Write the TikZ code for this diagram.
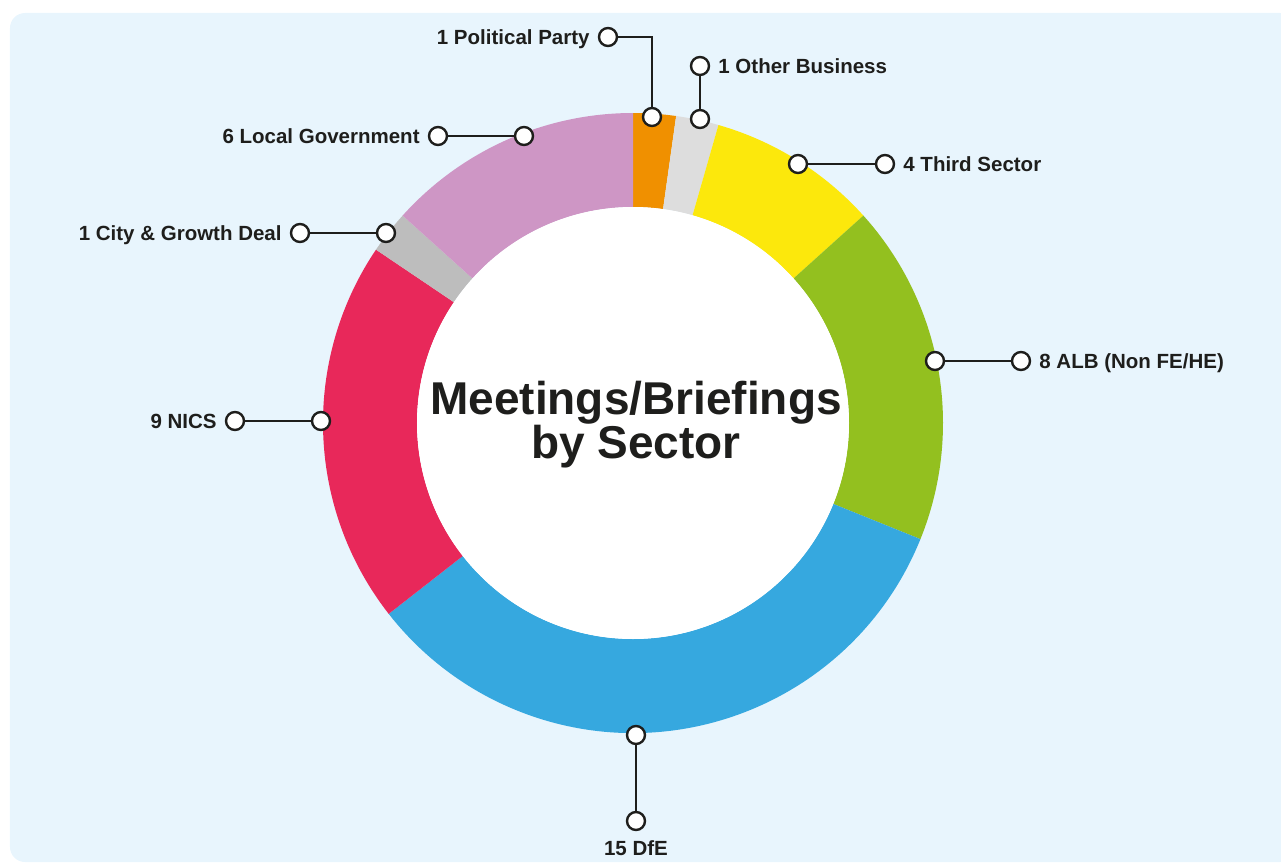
\documentclass[tikz,border=0pt]{standalone}
\usepackage{fontspec}
\setmainfont{Liberation Sans}
\usepackage{xcolor}
\usetikzlibrary{positioning}

\definecolor{ink}{HTML}{1E1E1C}
\definecolor{backcol}{HTML}{E8F5FD}
\definecolor{ppcol}{HTML}{F09000}
\definecolor{obcol}{HTML}{DDDDDD}
\definecolor{tscol}{HTML}{FCE80C}
\definecolor{albcol}{HTML}{93C01F}
\definecolor{dfecol}{HTML}{36A8DF}
\definecolor{nicscol}{HTML}{E8285A}
\definecolor{cgdcol}{HTML}{BDBDBD}
\definecolor{lgcol}{HTML}{CE96C5}

\begin{document}
\begin{tikzpicture}[x=1pt, y=1pt,
    dot/.style = {circle, draw = ink, fill = white, line width = 2.4pt, minimum size = 18pt, inner sep = 0pt},
    lead/.style = {draw = ink, line width = 2.3pt},
    lbl/.style = {text = ink, inner sep = 0pt, text height = 14.5pt, text depth = 0pt,
      font = \bfseries\fontsize{20.5}{24}\selectfont},
    node distance = 8pt]
    \useasboundingbox (-633, -440) rectangle (648, 423);
    \fill[backcol, rounded corners = 15pt] (-623, -439) rectangle (662, 410);
    {
      \foreach \a/\b/\col in {90/82/ppcol, 82/74/obcol, 74/42/tscol, 42/-22/albcol,
        -22/-142/dfecol, -142/-214/nicscol, -214/-222/cgdcol, -222/-270/lgcol}
        \fill[\col] (\a:310) arc[start angle = \a, end angle = \b, radius = 310]
          -- (\b:216) arc[start angle = \b, end angle = \a, radius = 216] -- cycle;
      \fill[white] (0, 0) circle (216);
    }
    {
      \node[dot] (pp1) at (19, 306) {};
      \node[dot] (pp2) at (-25, 386) {};
      \node[dot] (ob1) at (67, 304) {};
      \node[dot] (ob2) at (67, 357) {};
      \node[dot] (ts1) at (165, 259) {};
      \node[dot] (ts2) at (252, 259) {};
      \node[dot] (alb1) at (302, 62) {};
      \node[dot] (alb2) at (388, 62) {};
      \node[dot] (dfe1) at (3, -312) {};
      \node[dot] (dfe2) at (3, -398) {};
      \node[dot] (nics1) at (-312, 2) {};
      \node[dot] (nics2) at (-398, 2) {};
      \node[dot] (cgd1) at (-247, 190) {};
      \node[dot] (cgd2) at (-333, 190) {};
      \node[dot] (lg1) at (-109, 287) {};
      \node[dot] (lg2) at (-195, 287) {};
    }
    \draw[lead] (pp1) |- (pp2);
    \draw[lead] (ob1) -- (ob2);
    \draw[lead] (ts1) -- (ts2);
    \draw[lead] (alb1) -- (alb2);
    \draw[lead] (dfe1) -- (dfe2);
    \draw[lead] (nics1) -- (nics2);
    \draw[lead] (cgd1) -- (cgd2);
    \draw[lead] (lg1) -- (lg2);
    \node[lbl, left = of pp2] (ppl) {1 Political Party};
    \node[lbl, right = of ob2] (obl) {1 Other Business};
    \node[lbl, right = of ts2] (tsl) {4 Third Sector};
    \node[lbl, right = of alb2] (albl) {8 ALB (Non FE/HE)};
    \node[lbl, below = 10pt of dfe2] (dfel) {15 DfE};
    \node[lbl, left = of nics2] (nicsl) {9 NICS};
    \node[lbl, left = of cgd2] (cgdl) {1 City \& Growth Deal};
    \node[lbl, left = of lg2] (lgl) {6 Local Government};
    \node[text = ink, align = center, font = \bfseries\fontsize{46}{44}\selectfont] (title) at (3, -2)
      {Meetings/Briefings\\by Sector};
  \end{tikzpicture}
\end{document}
